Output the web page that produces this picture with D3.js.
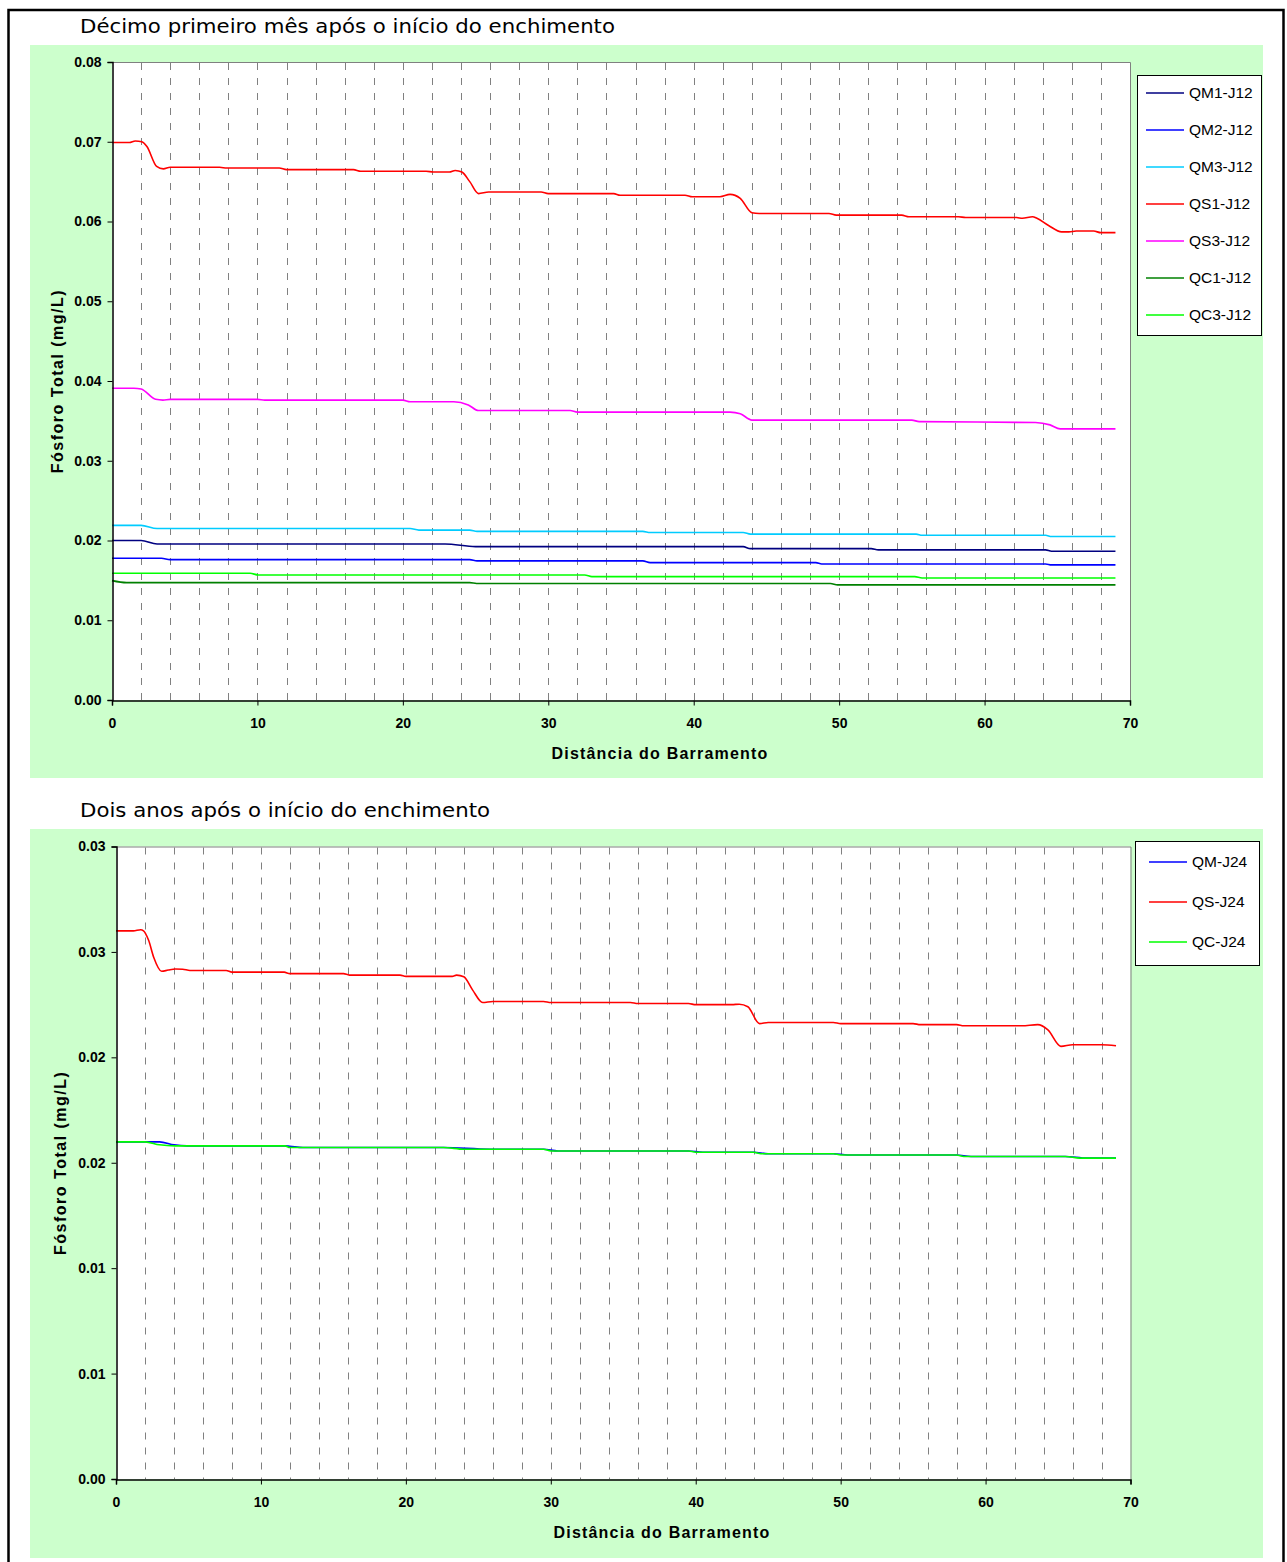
<!DOCTYPE html>
<html>
<head>
<meta charset="utf-8">
<script src="https://cdn.jsdelivr.net/npm/d3@7"></script>
<style>
  body { margin: 0; background: #ffffff; }
  svg { display: block; }
</style>
</head>
<body>
<svg id="chart" width="1287" height="1562"></svg>
<script>
// ---- axis ticks ----
const xTicks = [0, 10, 20, 30, 40, 50, 60, 70];
const gridKm = d3.range(2, 70, 2);
const yTicksTop = [0, 0.01, 0.02, 0.03, 0.04, 0.05, 0.06, 0.07, 0.08];
const yTickLabelsTop = ["0.00", "0.01", "0.02", "0.03", "0.04", "0.05", "0.06", "0.07", "0.08"];
const yTicksBottom = [0, 0.005, 0.01, 0.015, 0.02, 0.025, 0.03];
const yTickLabelsBottom = ["0.00", "0.01", "0.01", "0.02", "0.02", "0.03", "0.03"];

// ---- month 11 profiles: [km, mg/L] ----
const qm1J12 = [[0,0.0200],[2.0,0.0200],[3.1,0.01957],[22.9,0.01957],[25.0,0.01923],[43.4,0.01923],[43.9,0.01898],[52.2,0.01898],[52.7,0.01882],[64.2,0.01882],[64.6,0.01865],[69,0.01865]];
const qm2J12 = [[0,0.01777],[3.4,0.01777],[4.0,0.0176],[24.6,0.0176],[25.1,0.01744],[36.5,0.01744],[37.0,0.01723],[48.4,0.01723],[48.8,0.01706],[64.2,0.01706],[64.6,0.01694],[69,0.01694]];
const qm3J12 = [[0,0.0219],[2.0,0.0219],[3.1,0.0215],[20.5,0.0215],[21.1,0.0213],[24.6,0.0213],[25.1,0.02115],[36.5,0.02115],[37.0,0.0210],[43.4,0.0210],[43.9,0.0208],[55.3,0.0208],[55.7,0.02065],[64.2,0.02065],[64.6,0.0205],[69,0.0205]];
const qs1J12 = [[0,0.0699],[1.2,0.0699],[1.6,0.0701],[2.05,0.0700],[2.4,0.0694],[3.07,0.0669],[3.53,0.0666],[4.0,0.0668],[7.4,0.0668],[7.9,0.0667],[11.5,0.0667],[12.0,0.0665],[16.6,0.0665],[17.1,0.0663],[21.6,0.0663],[22.1,0.0662],[23.2,0.0662],[23.6,0.0664],[24.06,0.0662],[24.6,0.0650],[25.2,0.0635],[25.9,0.0637],[29.5,0.0637],[30.0,0.0635],[34.5,0.0635],[34.94,0.0633],[39.4,0.0633],[39.9,0.0631],[41.8,0.0631],[42.5,0.0634],[43.2,0.0629],[44.0,0.0611],[44.5,0.0610],[49.3,0.0610],[49.8,0.0608],[54.3,0.0608],[54.8,0.0606],[58.2,0.0606],[58.7,0.0605],[62.2,0.0605],[62.6,0.0604],[63.3,0.0606],[63.6,0.0604],[64.4,0.0595],[65.3,0.0587],[65.8,0.0587],[66.3,0.0588],[67.5,0.0588],[68,0.0586],[69,0.0586]];
const qs3J12 = [[0,0.0391],[1.5,0.0391],[2.0,0.0390],[3.0,0.0377],[3.5,0.0376],[4,0.0377],[10,0.0377],[10.5,0.0376],[20,0.0376],[20.5,0.0374],[23.5,0.0374],[24.5,0.0370],[25.2,0.0363],[31.5,0.0363],[32,0.0361],[42.5,0.0361],[43.2,0.0359],[44,0.0351],[55,0.0351],[55.5,0.0349],[63.5,0.0348],[64.5,0.0345],[65.2,0.0340],[69,0.0340]];
const qc1J12 = [[0,0.01497],[1.0,0.01472],[24.6,0.01472],[25.07,0.0146],[49.4,0.0146],[49.9,0.01443],[69,0.01443]];
const qc3J12 = [[0,0.01589],[9.5,0.01589],[10.06,0.01568],[32.5,0.01568],[33.0,0.01547],[55.2,0.01547],[55.7,0.0153],[69,0.0153]];

// ---- year 2 profiles: [km, mg/L] ----
const qmJ24 = [[0,0.01599],[3.0,0.01599],[4.0,0.01585],[4.9,0.0158],[11.6,0.0158],[12.0,0.01578],[12.9,0.01572],[22.6,0.01572],[25.8,0.01564],[29.5,0.01564],[30.5,0.01556],[39.5,0.01556],[40.5,0.0155],[44,0.0155],[45,0.01543],[49.5,0.01543],[50.5,0.01537],[58,0.01537],[59,0.0153],[65.5,0.0153],[67,0.01522],[69,0.01522]];
const qsJ24 = [[0,0.0260],[1.2,0.0260],[1.7,0.02605],[1.9,0.0260],[2.25,0.02555],[2.6,0.02475],[3.15,0.02408],[3.6,0.02414],[4.1,0.02419],[4.6,0.02418],[5.1,0.02412],[7.6,0.02412],[8.0,0.02404],[11.6,0.02404],[12.0,0.02397],[15.7,0.02397],[16.1,0.0239],[19.6,0.0239],[20.0,0.02384],[23.2,0.02384],[23.5,0.0239],[24.0,0.02382],[24.6,0.0232],[25.3,0.0226],[26,0.02265],[29.5,0.02265],[30,0.0226],[35.5,0.0226],[36,0.02255],[39.5,0.02255],[40,0.0225],[42.5,0.0225],[43,0.02252],[43.6,0.0224],[44.4,0.0216],[45,0.02165],[49.5,0.02165],[50,0.0216],[55,0.0216],[55.5,0.02155],[58,0.02155],[58.5,0.0215],[62.5,0.0215],[63.6,0.02155],[64.3,0.0213],[65.2,0.02052],[66,0.0206],[68,0.0206],[69,0.02055]];
const qcJ24 = [[0,0.01599],[2.0,0.01599],[3.0,0.01585],[4.07,0.0158],[11.66,0.0158],[12.0,0.01572],[22.6,0.01572],[24.0,0.01564],[29.5,0.01564],[30.0,0.01556],[39.5,0.01556],[40,0.0155],[44,0.0155],[44.5,0.01543],[49.5,0.01543],[50,0.01537],[58,0.01537],[58.5,0.0153],[65.5,0.0153],[66.5,0.01522],[69,0.01522]];

const seriesTop = [
  { name: "QM1-J12", color: "#000080", values: qm1J12 },
  { name: "QM2-J12", color: "#0000ff", values: qm2J12 },
  { name: "QM3-J12", color: "#00ccff", values: qm3J12 },
  { name: "QS1-J12", color: "#ff0000", values: qs1J12 },
  { name: "QS3-J12", color: "#ff00ff", values: qs3J12 },
  { name: "QC1-J12", color: "#008000", values: qc1J12 },
  { name: "QC3-J12", color: "#00ff00", values: qc3J12 }
];
const seriesBottom = [
  { name: "QM-J24", color: "#0000ff", values: qmJ24 },
  { name: "QS-J24", color: "#ff0000", values: qsJ24 },
  { name: "QC-J24", color: "#00ff00", values: qcJ24 }
];

const svg = d3.select("#chart");
const bodyFont = "'Liberation Sans', Arial, sans-serif";
const titleFont = "'DejaVu Sans', Verdana, sans-serif";

// outer frame around both panels
svg.append("rect")
  .attr("x", 8.5).attr("y", 10).attr("width", 1275).attr("height", 1600)
  .attr("fill", "none").attr("stroke", "#000").attr("stroke-width", 2.5);

function drawPanel(cfg) {
  const g = svg.append("g");
  // pale green chart area
  g.append("rect")
    .attr("x", cfg.bg[0]).attr("y", cfg.bg[1])
    .attr("width", cfg.bg[2]).attr("height", cfg.bg[3])
    .attr("fill", "#ccffcc");

  g.append("text")
    .attr("x", 80).attr("y", cfg.titleY)
    .attr("font-family", titleFont).attr("font-size", 19)
    .attr("textLength", cfg.titleLen).attr("lengthAdjust", "spacingAndGlyphs")
    .attr("fill", "#000")
    .text(cfg.title);

  const x = d3.scaleLinear().domain([0, 70]).range([cfg.left, cfg.right]);
  const y = d3.scaleLinear().domain(cfg.yDomain).range([cfg.bottom, cfg.top]);

  // white plot area
  g.append("rect")
    .attr("x", cfg.left).attr("y", cfg.top)
    .attr("width", cfg.right - cfg.left).attr("height", cfg.bottom - cfg.top)
    .attr("fill", "#fff");

  // dashed vertical gridlines every 2 km
  g.append("g").selectAll("line").data(gridKm).join("line")
    .attr("x1", d => Math.round(x(d)) + 0.5).attr("x2", d => Math.round(x(d)) + 0.5)
    .attr("y1", cfg.top + 1).attr("y2", cfg.bottom)
    .attr("stroke", "#808080").attr("stroke-width", 1)
    .attr("stroke-dasharray", "7,8");

  // grey frame on top/right
  g.append("path")
    .attr("d", `M${cfg.left},${cfg.top + 0.5}H${cfg.right + 0.5}V${cfg.bottom}`)
    .attr("fill", "none").attr("stroke", "#808080").attr("stroke-width", 1);

  // data lines
  const line = d3.line()
    .x(d => x(d[0])).y(d => y(d[1]))
    .curve(d3.curveMonotoneX);
  const plot = g.append("g");
  cfg.series.forEach(s => {
    plot.append("path")
      .datum(s.values)
      .attr("d", line)
      .attr("fill", "none")
      .attr("stroke", s.color)
      .attr("stroke-width", 1.6)
      .attr("stroke-linejoin", "round");
  });

  // axes
  const yAxis = d3.axisLeft(y)
    .tickValues(cfg.yTicks)
    .tickFormat((d, i) => cfg.yLabels[i])
    .tickSize(5).tickPadding(6);
  const ya = g.append("g")
    .attr("transform", `translate(${cfg.left + 0.5},0)`)
    .call(yAxis);
  ya.select(".domain").attr("stroke", "#000").attr("stroke-width", 1.5);
  ya.selectAll(".tick line").attr("stroke", "#000");
  ya.selectAll(".tick text")
    .attr("font-family", bodyFont).attr("font-size", 14).attr("font-weight", "bold")
    .attr("fill", "#000");

  const xAxis = d3.axisBottom(x)
    .tickValues(xTicks)
    .tickFormat(d3.format("d"))
    .tickSize(5).tickPadding(13);
  const xa = g.append("g")
    .attr("transform", `translate(0,${cfg.bottom + 0.5})`)
    .call(xAxis);
  xa.select(".domain").attr("stroke", "#000").attr("stroke-width", 1.5);
  xa.selectAll(".tick line").attr("stroke", "#000");
  xa.selectAll(".tick text")
    .attr("font-family", bodyFont).attr("font-size", 14).attr("font-weight", "bold")
    .attr("fill", "#000");

  // axis titles
  g.append("text")
    .attr("x", cfg.xTitleX).attr("y", cfg.xTitleY)
    .attr("text-anchor", "middle")
    .attr("font-family", bodyFont).attr("font-size", 16).attr("font-weight", "bold")
    .attr("letter-spacing", 1.2)
    .text("Distância do Barramento");
  g.append("text")
    .attr("transform", `translate(${cfg.yTitleX},${(cfg.top + cfg.bottom) / 2}) rotate(-90)`)
    .attr("text-anchor", "middle")
    .attr("font-family", bodyFont).attr("font-size", 16).attr("font-weight", "bold")
    .attr("letter-spacing", 1.5)
    .text("Fósforo Total (mg/L)");

  // legend
  const lg = g.append("g");
  lg.append("rect")
    .attr("x", cfg.legend.x + 0.5).attr("y", cfg.legend.y + 0.5)
    .attr("width", cfg.legend.w).attr("height", cfg.legend.h)
    .attr("fill", "#fff").attr("stroke", "#000").attr("stroke-width", 1);
  const items = lg.selectAll("g.item").data(cfg.series).join("g")
    .attr("class", "item")
    .attr("transform", (d, i) => `translate(0,${cfg.legend.firstY + i * cfg.legend.step})`);
  items.append("line")
    .attr("x1", cfg.legend.lineX).attr("x2", cfg.legend.lineX + 38)
    .attr("y1", 0).attr("y2", 0)
    .attr("stroke", d => d.color).attr("stroke-width", 1.6);
  items.append("text")
    .attr("x", cfg.legend.lineX + 43).attr("y", 5)
    .attr("font-family", bodyFont).attr("font-size", 15.5)
    .attr("fill", "#000")
    .text(d => d.name);
}

drawPanel({
  title: "Décimo primeiro mês após o início do enchimento",
  titleY: 33, titleLen: 535,
  bg: [30, 45, 1233, 733],
  left: 112, right: 1130, top: 62, bottom: 700,
  yDomain: [0, 0.08], yTicks: yTicksTop, yLabels: yTickLabelsTop,
  xTitleX: 660, xTitleY: 759, yTitleX: 63,
  series: seriesTop,
  legend: { x: 1137, y: 75, w: 124, h: 260, firstY: 93, step: 37, lineX: 1146 }
});

drawPanel({
  title: "Dois anos após o início do enchimento",
  titleY: 817, titleLen: 410,
  bg: [30, 829, 1233, 729],
  left: 116, right: 1130.5, top: 846.5, bottom: 1479,
  yDomain: [0, 0.03], yTicks: yTicksBottom, yLabels: yTickLabelsBottom,
  xTitleX: 662, xTitleY: 1538, yTitleX: 66,
  series: seriesBottom,
  legend: { x: 1135, y: 841, w: 124, h: 124, firstY: 862, step: 40, lineX: 1149 }
});
</script>
</body>
</html>
